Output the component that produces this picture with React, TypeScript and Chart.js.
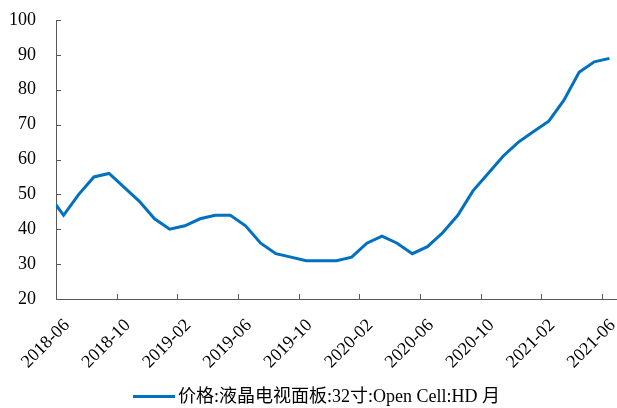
import React, { useEffect, useRef } from "react";
import { Chart, registerables } from "chart.js";

Chart.register(...registerables);

// Monthly panel price series (mid-month readings); 2018-05 only feeds the segment entering the axis.
const months = [
  "2018-05", "2018-06", "2018-07", "2018-08", "2018-09", "2018-10", "2018-11", "2018-12",
  "2019-01", "2019-02", "2019-03", "2019-04", "2019-05", "2019-06", "2019-07", "2019-08",
  "2019-09", "2019-10", "2019-11", "2019-12", "2020-01", "2020-02", "2020-03", "2020-04",
  "2020-05", "2020-06", "2020-07", "2020-08", "2020-09", "2020-10", "2020-11", "2020-12",
  "2021-01", "2021-02", "2021-03", "2021-04", "2021-05", "2021-06",
];

const prices = [
  50, 44, 50, 55, 56, 52, 48, 43,
  40, 41, 43, 44, 44, 41, 36, 33,
  32, 31, 31, 31, 32, 36, 38, 36,
  33, 35, 39, 44, 51, 56, 61, 65,
  68, 71, 77, 85, 88, 89,
];

const xTickLabels = [
  "2018-06", "2018-10", "2019-02", "2019-06", "2019-10",
  "2020-02", "2020-06", "2020-10", "2021-02", "2021-06",
];

const yTicks = [20, 30, 40, 50, 60, 70, 80, 90, 100];

const seriesLabel = "价格:液晶电视面板:32寸:Open Cell:HD 月";

const FONT = "'Liberation Serif', 'Times New Roman', 'Noto Sans CJK SC', serif";
const AXIS_COLOR = "#595959";
const LINE_COLOR = "#0070C0";

// months elapsed since the start of 2018-06
const monthStart = (label: string) => {
  const [y, m] = label.split("-").map(Number);
  return (y - 2018) * 12 + (m - 6);
};

// inward tick marks on both axes
const innerTicks = {
  id: "innerTicks",
  afterDraw(chart: any) {
    const { ctx, scales } = chart;
    const x = scales.x;
    const y = scales.y;
    ctx.save();
    ctx.strokeStyle = AXIS_COLOR;
    ctx.lineWidth = 1;
    ctx.beginPath();
    x.ticks.forEach((t: any) => {
      const px = Math.round(x.getPixelForValue(t.value)) + 0.5;
      ctx.moveTo(px, x.top);
      ctx.lineTo(px, x.top - 5);
    });
    y.ticks.forEach((t: any) => {
      const py = Math.round(y.getPixelForValue(t.value)) + 0.5;
      ctx.moveTo(y.right, py);
      ctx.lineTo(y.right + 5, py);
    });
    ctx.stroke();
    ctx.restore();
  },
};

export default function App() {
  const ref = useRef<HTMLCanvasElement | null>(null);

  useEffect(() => {
    if (!ref.current) return;
    const chart = new Chart(ref.current, {
      type: "line",
      data: {
        datasets: [
          {
            label: seriesLabel,
            data: months.map((m, i) => ({ x: monthStart(m) + 0.5, y: prices[i] })),
            borderColor: LINE_COLOR,
            backgroundColor: LINE_COLOR,
            borderWidth: 3,
            pointRadius: 0,
            tension: 0,
            clip: 0,
          },
        ],
      },
      options: {
        animation: false,
        responsive: false,
        events: [],
        layout: { padding: { top: 20, left: 8, right: 0, bottom: 20 } },
        plugins: {
          tooltip: { enabled: false },
          legend: { display: false },
        },
        scales: {
          x: {
            type: "linear",
            min: 0,
            max: 37,
            grid: { display: false, drawTicks: false },
            border: { display: true, color: AXIS_COLOR, width: 1 },
            afterBuildTicks: (s: any) => {
              s.ticks = xTickLabels.map((l) => ({ value: monthStart(l) }));
            },
            afterFit: (s: any) => {
              s.height = 89;
              s.paddingLeft = 0;
              s.paddingRight = 0;
            },
            ticks: {
              autoSkip: false,
              minRotation: 45,
              maxRotation: 45,
              padding: 16,
              labelOffset: 11,
              color: "#000",
              font: { family: FONT, size: 18 },
              callback: (v: any) => xTickLabels.find((l) => monthStart(l) === v) ?? "",
            },
          },
          y: {
            min: 20,
            max: 100,
            grid: { display: false, drawTicks: false },
            border: { display: true, color: AXIS_COLOR, width: 1 },
            afterBuildTicks: (s: any) => {
              s.ticks = yTicks.map((v) => ({ value: v }));
            },
            afterFit: (s: any) => {
              s.width = 48;
              s.paddingTop = 0;
              s.paddingBottom = 0;
            },
            ticks: {
              padding: 20,
              color: "#000",
              font: { family: FONT, size: 18 },
            },
          },
        },
      },
      plugins: [innerTicks],
    });
    return () => chart.destroy();
  }, []);

  return (
    <div style={{ position: "fixed", left: 0, top: 0, width: 617, height: 408, background: "#fff" }}>
      <canvas ref={ref} width={617} height={408} style={{ display: "block" }} />
      <div
        style={{
          position: "absolute",
          left: 133,
          top: 386,
          height: 20,
          display: "flex",
          alignItems: "center",
          whiteSpace: "nowrap",
          fontFamily: FONT,
          fontSize: 18,
          lineHeight: "20px",
          color: "#000",
        }}
      >
        <span style={{ display: "inline-block", width: 42, height: 3, background: LINE_COLOR, marginRight: 3 }} />
        <span>{seriesLabel}</span>
      </div>
    </div>
  );
}
